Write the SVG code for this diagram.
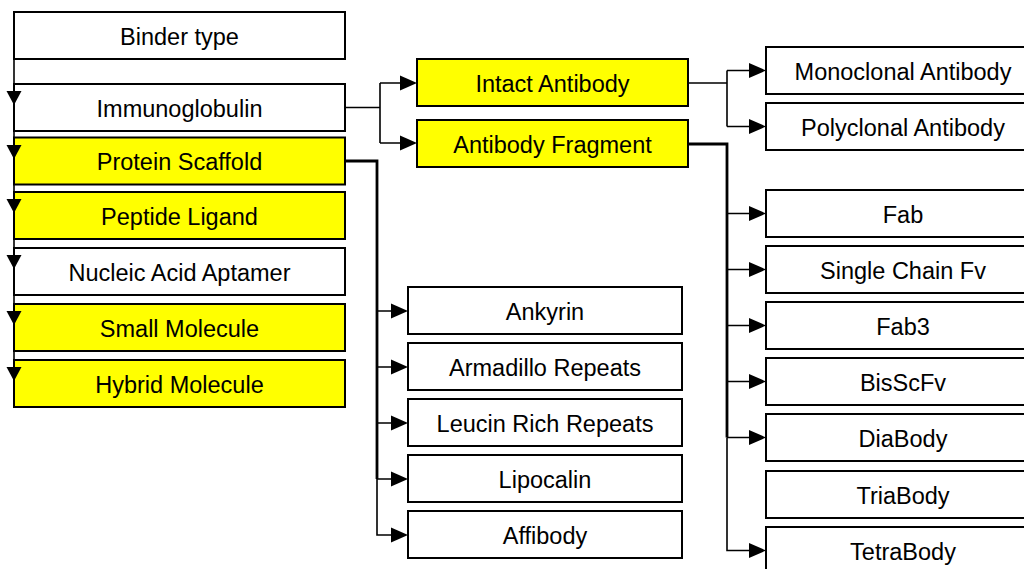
<svg xmlns="http://www.w3.org/2000/svg" xmlns:xlink="http://www.w3.org/1999/xlink" width="1024" height="569" viewBox="0 0 1024 569">
  <style>
    .box { fill: #ffffff; stroke: #000000; stroke-width: 2; }
    .hl { fill: #ffff00; }
    .lbl { font-family: "Liberation Sans", Arial, sans-serif; font-size: 23.5px; fill: #000000; text-anchor: middle; }
    .wire { fill: none; stroke: #000000; stroke-width: 1.6; }
    .heavy { stroke-width: 2.8; }
    .head { fill: #000000; stroke: none; }
  </style>
  <defs>
    <!-- right-pointing arrowhead, tip at origin -->
    <polygon id="aR" points="-17,-7.5 0,0 -17,7.5"/>
    <!-- down-pointing arrowhead, top centred at origin -->
    <polygon id="aD" points="-7.5,0 7.5,0 0,14"/>
  </defs>
  <rect width="1024" height="569" fill="#ffffff"/>

  <!-- left column -->
  <g id="binder-type"><rect class="box" x="14" y="12" width="331" height="47"/><text class="lbl" x="179.5" y="44.5">Binder type</text></g>
  <g id="immunoglobulin"><rect class="box" x="14" y="84" width="331" height="47"/><text class="lbl" x="179.5" y="116.5">Immunoglobulin</text></g>
  <g id="protein-scaffold"><rect class="box hl" x="14" y="137.5" width="331" height="47"/><text class="lbl" x="179.5" y="170">Protein Scaffold</text></g>
  <g id="peptide-ligand"><rect class="box hl" x="14" y="192" width="331" height="47"/><text class="lbl" x="179.5" y="224.5">Peptide Ligand</text></g>
  <g id="nucleic-acid-aptamer"><rect class="box" x="14" y="248" width="331" height="47"/><text class="lbl" x="179.5" y="280.5">Nucleic Acid Aptamer</text></g>
  <g id="small-molecule"><rect class="box hl" x="14" y="304" width="331" height="47"/><text class="lbl" x="179.5" y="336.5">Small Molecule</text></g>
  <g id="hybrid-molecule"><rect class="box hl" x="14" y="360" width="331" height="47"/><text class="lbl" x="179.5" y="392.5">Hybrid Molecule</text></g>

  <!-- antibody classes -->
  <g id="intact-antibody"><rect class="box hl" x="417" y="59" width="271" height="47"/><text class="lbl" x="552.5" y="91.5">Intact Antibody</text></g>
  <g id="antibody-fragment"><rect class="box hl" x="417" y="120" width="271" height="47"/><text class="lbl" x="552.5" y="152.5">Antibody Fragment</text></g>

  <!-- protein scaffolds -->
  <g id="ankyrin"><rect class="box" x="408" y="287" width="274" height="47"/><text class="lbl" x="545" y="319.5">Ankyrin</text></g>
  <g id="armadillo-repeats"><rect class="box" x="408" y="343" width="274" height="47"/><text class="lbl" x="545" y="375.5">Armadillo Repeats</text></g>
  <g id="leucin-rich-repeats"><rect class="box" x="408" y="399" width="274" height="47"/><text class="lbl" x="545" y="431.5">Leucin Rich Repeats</text></g>
  <g id="lipocalin"><rect class="box" x="408" y="455" width="274" height="47"/><text class="lbl" x="545" y="487.5">Lipocalin</text></g>
  <g id="affibody"><rect class="box" x="408" y="511" width="274" height="47"/><text class="lbl" x="545" y="543.5">Affibody</text></g>

  <!-- antibody types and fragments -->
  <g id="monoclonal-antibody"><rect class="box" x="766" y="47" width="274" height="47"/><text class="lbl" x="903" y="79.5">Monoclonal Antibody</text></g>
  <g id="polyclonal-antibody"><rect class="box" x="766" y="103" width="274" height="47"/><text class="lbl" x="903" y="135.5">Polyclonal Antibody</text></g>
  <g id="fab"><rect class="box" x="766" y="190" width="274" height="47"/><text class="lbl" x="903" y="222.5">Fab</text></g>
  <g id="single-chain-fv"><rect class="box" x="766" y="246" width="274" height="47"/><text class="lbl" x="903" y="278.5">Single Chain Fv</text></g>
  <g id="fab3"><rect class="box" x="766" y="302" width="274" height="47"/><text class="lbl" x="903" y="334.5">Fab3</text></g>
  <g id="bisscfv"><rect class="box" x="766" y="358" width="274" height="47"/><text class="lbl" x="903" y="390.5">BisScFv</text></g>
  <g id="diabody"><rect class="box" x="766" y="414" width="274" height="47"/><text class="lbl" x="903" y="446.5">DiaBody</text></g>
  <g id="triabody"><rect class="box" x="766" y="471" width="274" height="47"/><text class="lbl" x="903" y="503.5">TriaBody</text></g>
  <g id="tetrabody"><rect class="box" x="766" y="527" width="274" height="47"/><text class="lbl" x="903" y="559.5">TetraBody</text></g>

  <g id="connectors">
    <!-- binder type trunk -->
    <path class="wire" stroke-width="2" d="M14 35 V407"/>
    <use xlink:href="#aD" class="head" x="14" y="91"/>
    <use xlink:href="#aD" class="head" x="14" y="145"/>
    <use xlink:href="#aD" class="head" x="14" y="199"/>
    <use xlink:href="#aD" class="head" x="14" y="255"/>
    <use xlink:href="#aD" class="head" x="14" y="311"/>
    <use xlink:href="#aD" class="head" x="14" y="367"/>

    <!-- immunoglobulin -> antibody classes -->
    <path class="wire" d="M345 107.5 H380 M380 83 V143 M380 83 H402 M380 143 H402"/>
    <use xlink:href="#aR" class="head" x="417" y="83"/>
    <use xlink:href="#aR" class="head" x="417" y="143"/>

    <!-- intact antibody -> monoclonal / polyclonal -->
    <path class="wire" d="M688 83 H727 M727 70.5 V126.5 M727 70.5 H751 M727 126.5 H751"/>
    <use xlink:href="#aR" class="head" x="766" y="70.5"/>
    <use xlink:href="#aR" class="head" x="766" y="126.5"/>

    <!-- antibody fragment -> fragments -->
    <path class="wire heavy" d="M688 144 H727 V437.5"/>
    <path class="wire" d="M727 437.5 V550.5 H751 M727 213.5 H751 M727 269.5 H751 M727 325.5 H751 M727 381.5 H751 M727 437.5 H751"/>
    <use xlink:href="#aR" class="head" x="766" y="213.5"/>
    <use xlink:href="#aR" class="head" x="766" y="269.5"/>
    <use xlink:href="#aR" class="head" x="766" y="325.5"/>
    <use xlink:href="#aR" class="head" x="766" y="381.5"/>
    <use xlink:href="#aR" class="head" x="766" y="437.5"/>
    <use xlink:href="#aR" class="head" x="766" y="550.5"/>

    <!-- protein scaffold -> scaffolds -->
    <path class="wire heavy" d="M345 161 H377 V479"/>
    <path class="wire" d="M377 479 V535 H393 M377 311 H393 M377 367 H393 M377 423 H393 M377 479 H393"/>
    <use xlink:href="#aR" class="head" x="408" y="311"/>
    <use xlink:href="#aR" class="head" x="408" y="367"/>
    <use xlink:href="#aR" class="head" x="408" y="423"/>
    <use xlink:href="#aR" class="head" x="408" y="479"/>
    <use xlink:href="#aR" class="head" x="408" y="535"/>
  </g>
</svg>
